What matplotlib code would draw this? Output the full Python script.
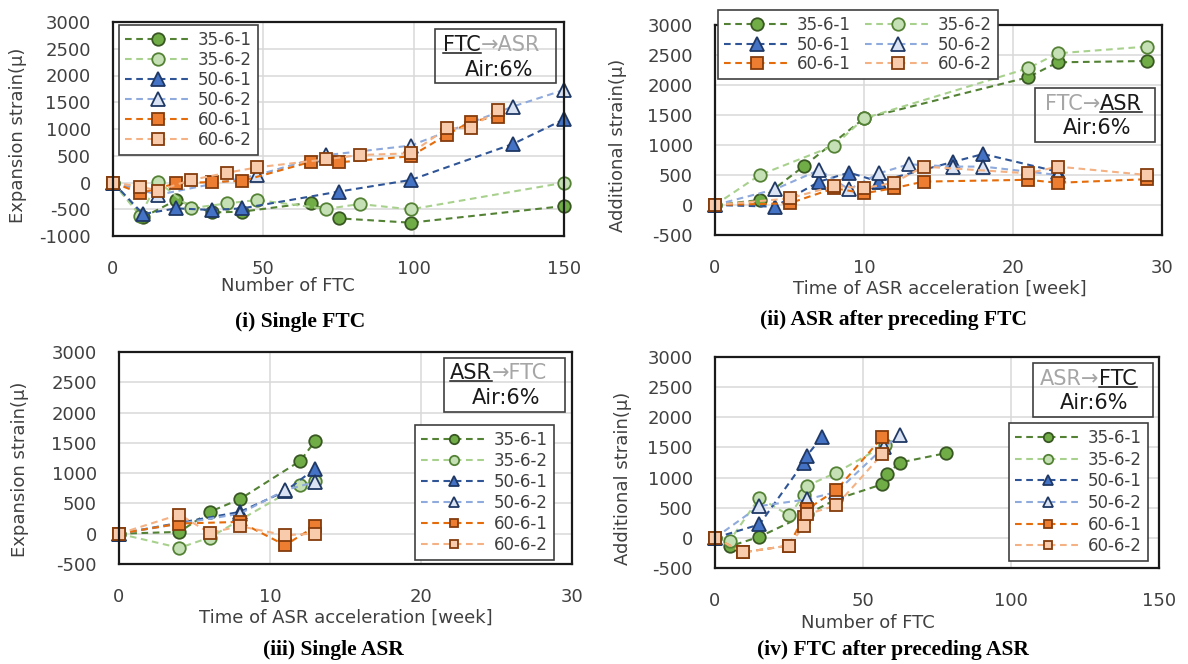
import matplotlib.pyplot as plt
from matplotlib.patches import Rectangle
from matplotlib.lines import Line2D

# ---- data ----
labels = ['35-6-1', '35-6-2', '50-6-1', '50-6-2', '60-6-1', '60-6-2']

# (i) single FTC : number of FTC vs expansion strain
p1_35_1_x = [0, 10, 21, 33, 43, 66, 75, 99, 150]
p1_35_1_y = [0, -650, -330, -560, -545, -377, -670, -751, -440]
p1_35_2_x = [0, 9, 15, 26, 38, 48, 71, 82, 99, 150]
p1_35_2_y = [0, -620, 15, -480, -390, -327, -495, -402, -502, -4]
p1_50_1_x = [0, 10, 21, 33, 43, 75, 99, 133, 150]
p1_50_1_y = [0, -590, -483, -514, -483, -171, 47, 720, 1180]
p1_50_2_x = [0, 15, 48, 71, 99, 133, 150]
p1_50_2_y = [0, -230, 140, 512, 690, 1420, 1730]
p1_60_1_x = [0, 9, 21, 33, 43, 66, 75, 99, 111, 119, 128]
p1_60_1_y = [0, -200, -15, 10, 30, 389, 377, 490, 890, 1140, 1230]
p1_60_2_x = [0, 9, 15, 26, 38, 48, 71, 82, 99, 111, 119, 128]
p1_60_2_y = [0, -78, -150, 47, 183, 284, 433, 514, 545, 1010, 1025, 1355]

# (ii) ASR after preceding FTC : weeks vs additional strain
p2_35_1_x = [0, 3, 6, 10, 21, 23, 29]
p2_35_1_y = [0, 83, 655, 1444, 2128, 2378, 2400]
p2_35_2_x = [0, 3, 8, 10, 21, 23, 29]
p2_35_2_y = [0, 500, 990, 1444, 2278, 2528, 2640]
p2_50_1_x = [0, 4, 7, 9, 11, 16, 18, 23]
p2_50_1_y = [0, -28, 390, 540, 390, 720, 850, 555]
p2_50_2_x = [0, 4, 7, 9, 11, 13, 16, 18, 23]
p2_50_2_y = [0, 260, 583, 260, 528, 678, 640, 640, 500]
p2_60_1_x = [0, 5, 8, 10, 12, 14, 21, 23, 29]
p2_60_1_y = [0, 28, 280, 195, 280, 390, 420, 370, 430]
p2_60_2_x = [0, 5, 8, 10, 12, 14, 21, 23, 29]
p2_60_2_y = [0, 110, 317, 280, 370, 640, 528, 640, 500]

# (iii) single ASR : weeks vs expansion strain
p3_35_1_x = [0, 4, 6, 8, 12, 13]
p3_35_1_y = [0, 30, 360, 570, 1202, 1532]
p3_35_2_x = [0, 4, 6, 12, 13]
p3_35_2_y = [0, -234, -63, 800, 870]
p3_50_1_x = [0, 8, 11, 13]
p3_50_1_y = [0, 360, 700, 1076]
p3_50_2_x = [0, 8, 11, 13]
p3_50_2_y = [0, 330, 720, 855]
p3_60_1_x = [0, 4, 8, 11, 13]
p3_60_1_y = [0, 168, 195, -190, 124]
p3_60_2_x = [0, 4, 6, 8, 11, 13]
p3_60_2_y = [0, 317, 13, 124, -25, 3]

# (iv) FTC after preceding ASR : number of FTC vs additional strain
p4_35_1_x = [0, 5, 15, 31, 41, 56.5, 58, 62.5, 78]
p4_35_1_y = [0, -140, 17, 390, 640, 889, 1055, 1250, 1405]
p4_35_2_x = [0, 5, 15, 25, 30, 31, 41, 57.5]
p4_35_2_y = [0, -45, 667, 372, 705, 861, 1083, 1540]
p4_50_1_x = [0, 15, 30, 31, 36]
p4_50_1_y = [0, 222, 1250, 1361, 1667]
p4_50_2_x = [0, 15, 31, 41, 57, 62.5]
p4_50_2_y = [0, 527, 638, 760, 1500, 1705]
p4_60_1_x = [0, 9.5, 25, 30, 31, 41, 56.5]
p4_60_1_y = [0, -240, -128, 350, 472, 794, 1667]
p4_60_2_x = [0, 9.5, 25, 30, 31, 41, 56.5]
p4_60_2_y = [0, -240, -128, 194, 389, 539, 1389]

panel1 = [(p1_35_1_x, p1_35_1_y), (p1_35_2_x, p1_35_2_y), (p1_50_1_x, p1_50_1_y),
          (p1_50_2_x, p1_50_2_y), (p1_60_1_x, p1_60_1_y), (p1_60_2_x, p1_60_2_y)]
panel2 = [(p2_35_1_x, p2_35_1_y), (p2_35_2_x, p2_35_2_y), (p2_50_1_x, p2_50_1_y),
          (p2_50_2_x, p2_50_2_y), (p2_60_1_x, p2_60_1_y), (p2_60_2_x, p2_60_2_y)]
panel3 = [(p3_35_1_x, p3_35_1_y), (p3_35_2_x, p3_35_2_y), (p3_50_1_x, p3_50_1_y),
          (p3_50_2_x, p3_50_2_y), (p3_60_1_x, p3_60_1_y), (p3_60_2_x, p3_60_2_y)]
panel4 = [(p4_35_1_x, p4_35_1_y), (p4_35_2_x, p4_35_2_y), (p4_50_1_x, p4_50_1_y),
          (p4_50_2_x, p4_50_2_y), (p4_60_1_x, p4_60_1_y), (p4_60_2_x, p4_60_2_y)]

# ---- styles ----
style = {
    '35-6-1': dict(marker='o', color='#548235', mfc='#70AD47', mec='#385723', ms=9),
    '35-6-2': dict(marker='o', color='#A9D18E', mfc='#C5E0B4', mec='#548235', ms=9),
    '50-6-1': dict(marker='^', color='#2F5597', mfc='#4472C4', mec='#1F3864', ms=9.5),
    '50-6-2': dict(marker='^', color='#8FAADC', mfc='#DAE3F3', mec='#1F3864', ms=9.5),
    '60-6-1': dict(marker='s', color='#E46C0A', mfc='#ED7D31', mec='#843C0C', ms=8.5),
    '60-6-2': dict(marker='s', color='#F4B183', mfc='#F8CBAD', mec='#843C0C', ms=8.5),
}

plt.rcParams['font.family'] = 'DejaVu Sans'
plt.rcParams['axes.unicode_minus'] = False

W, H = 1188, 664
fig = plt.figure(figsize=(W / 100, H / 100), dpi=100)
rend = fig.canvas.get_renderer()
TXT = '#404040'
DARK = '#1a1a1a'
GRAY = '#A6A6A6'


def fx(x):
    return x / W


def fy(y):
    return 1 - y / H


def make_ax(l, t, r, b, xmax, ymin, xstep):
    ax = fig.add_axes([fx(l), fy(b), (r - l) / W, (b - t) / H])
    ax.set_xlim(0, xmax)
    ax.set_ylim(ymin, 3000)
    ax.set_xticks(range(0, xmax + 1, xstep))
    ax.set_yticks(range(ymin, 3001, 500))
    ax.grid(True, color='#D9D9D9', lw=1.1)
    ax.set_axisbelow(True)
    for s in ax.spines.values():
        s.set_linewidth(1.6)
        s.set_color(DARK)
    ax.tick_params(length=0, labelsize=13, labelcolor=TXT)
    ax.tick_params(axis='x', pad=17)
    ax.tick_params(axis='y', pad=16)
    return ax


def draw(ax, series):
    for lab, (x, y) in zip(labels, series):
        st = style[lab]
        ax.plot(x, y, ls=(0, (3.2, 2.2)), lw=1.5, color=st['color'], marker=st['marker'],
                mfc=st['mfc'], mec=st['mec'], ms=st['ms'], mew=1.3, label=lab, clip_on=False)


def legend(ax, left, top, ncol=1, order=None, fs=12, mscale=1.0, spacing=0.12, hl=4.0):
    h, l = ax.get_legend_handles_labels()
    if order:
        h = [h[i] for i in order]
        l = [l[i] for i in order]
    leg = ax.legend(h, l, loc='upper left', bbox_to_anchor=(fx(left), fy(top)),
                    bbox_transform=fig.transFigure, borderaxespad=0, ncol=ncol,
                    fontsize=fs, markerscale=mscale, labelspacing=spacing, handlelength=hl,
                    handletextpad=0.4, borderpad=0.35, columnspacing=0.8,
                    fancybox=False, framealpha=1, edgecolor='#404040', labelcolor=TXT)
    leg.get_frame().set_linewidth(1.2)
    leg.set_zorder(10)


ax1 = make_ax(113, 22, 564, 236, 150, -1000, 50)
ax2 = make_ax(715, 25, 1162, 235, 30, -500, 10)
ax3 = make_ax(119, 352, 572, 564, 30, -500, 10)
ax4 = make_ax(715, 357, 1159, 568, 150, -500, 50)

draw(ax1, panel1)
draw(ax2, panel2)
draw(ax3, panel3)
draw(ax4, panel4)

legend(ax1, 119, 25)
legend(ax2, 718, 10, ncol=2, order=[0, 2, 4, 1, 3, 5], spacing=0.1)
legend(ax3, 415, 425, mscale=0.75, spacing=0.18)
legend(ax4, 1009, 423, mscale=0.75, spacing=0.22)

# axis titles
lab = dict(ha='center', va='center', fontsize=13, color=TXT)
fig.text(fx(288), fy(286), 'Number of FTC', **lab)
fig.text(fx(940), fy(289), 'Time of ASR acceleration [week]', **lab)
fig.text(fx(346), fy(618), 'Time of ASR acceleration [week]', **lab)
fig.text(fx(868), fy(623), 'Number of FTC', **lab)
fig.text(fx(18), fy(135), 'Expansion strain(μ)', rotation=90, **lab)
fig.text(fx(618), fy(145), 'Additional strain(μ)', rotation=90, **lab)
fig.text(fx(20), fy(469), 'Expansion strain(μ)', rotation=90, **lab)
fig.text(fx(623), fy(478), 'Additional strain(μ)', rotation=90, **lab)

# captions
cap = dict(ha='center', va='center', fontsize=15.5, fontweight='bold', family='Liberation Serif')
fig.text(fx(300), fy(322), '(i) Single FTC', **cap)
fig.text(fx(893), fy(320), '(ii) ASR after preceding FTC', **cap)
fig.text(fx(333), fy(650), '(iii) Single ASR', **cap)
fig.text(fx(893), fy(650), '(iv) FTC after preceding ASR', **cap)


# condition boxes: pieces of mixed colour placed side by side
def tag(box, x1, y1, parts, x2, y2):
    l, t, r, b = box
    fig.patches.append(Rectangle((fx(l), fy(b)), (r - l) / W, (b - t) / H, transform=fig.transFigure,
                                 fill=False, ec='#404040', lw=1.2, zorder=11))
    xpos = fx(x1)
    for s, c, ul in parts:
        t_ = fig.text(xpos, fy(y1), s, color=c, fontsize=15, ha='left', va='baseline', zorder=12)
        bb = t_.get_window_extent(rend)
        if ul:
            yy = (bb.y0 + 2) / fig.bbox.height
            fig.add_artist(Line2D([bb.x0 / fig.bbox.width, bb.x1 / fig.bbox.width], [yy, yy],
                                  transform=fig.transFigure, color=DARK, lw=1.1))
        xpos = bb.x1 / fig.bbox.width
    fig.text(fx(x2), fy(y2), 'Air:6%', color=DARK, fontsize=15, ha='left', va='center', zorder=12)


tag((435, 29, 556, 83), 443, 51, [('FTC', DARK, True), ('→ASR', GRAY, False)], 465, 70)
tag((1035, 88, 1155, 142), 1045, 110, [('FTC→', GRAY, False), ('ASR', DARK, True)], 1063, 128)
tag((444, 358, 565, 412), 450, 379, [('ASR', DARK, True), ('→FTC', GRAY, False)], 472, 398)
tag((1033, 363, 1153, 417), 1040, 385, [('ASR→', GRAY, False), ('FTC', DARK, True)], 1060, 403)

fig.savefig('out.png', dpi=100)
